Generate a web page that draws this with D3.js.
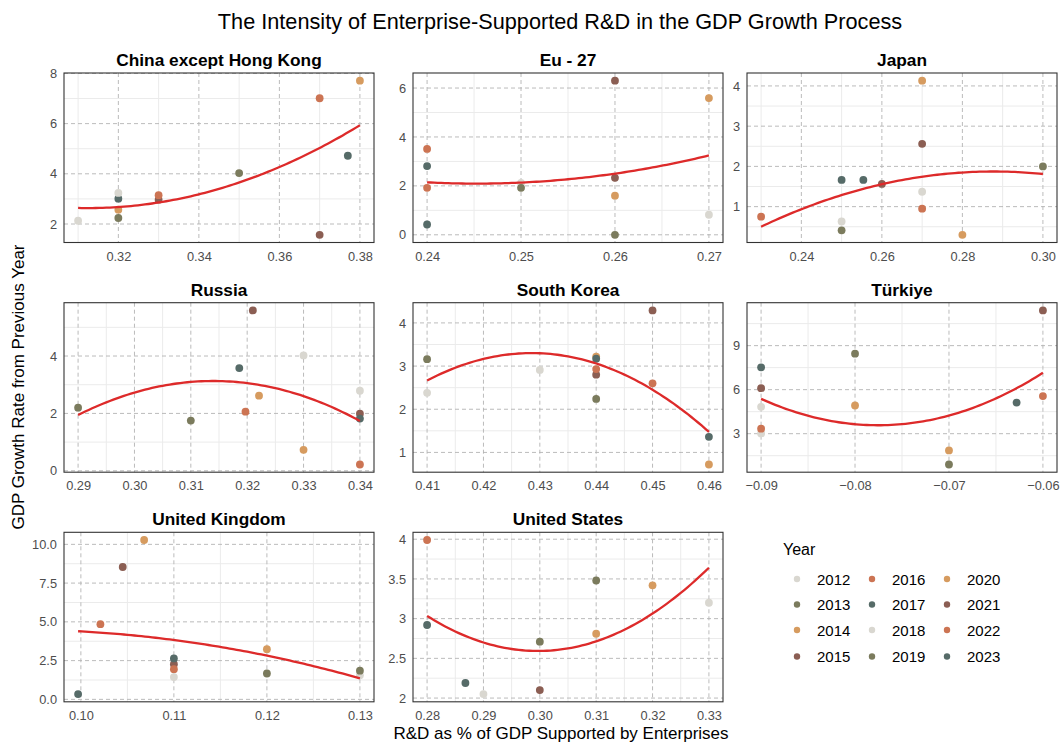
<!DOCTYPE html>
<html><head><meta charset="utf-8">
<script src="https://cdn.jsdelivr.net/npm/d3@7"></script>
<style>
body{margin:0;background:#fff}
svg{display:block}
text{font-family:"Liberation Sans",Arial,sans-serif}
</style>
</head><body>
<svg id="chart" width="1061" height="745"></svg>
<script>
// ---------- data ----------
const years = [2012,2013,2014,2015,2016,2017,2018,2019,2020,2021,2022,2023];
const yearColors = ["#d9d7d0","#7b7b5d","#d69b5f","#8b5e53","#cc7453","#566b68",
                    "#d9d7d0","#7b7b5d","#d69b5f","#8b5e53","#cc7453","#566b68"];
const countries = ["China except Hong Kong","Eu - 27","Japan","Russia","South Korea","Türkiye","United Kingdom","United States"];

const yrFull = [2012,2013,2014,2015,2016,2017,2018,2019,2020,2021,2022,2023];
const rdChina  = [0.31,0.32,0.32,0.33,0.33,0.32,0.32,0.35,0.38,0.37,0.37,0.377];
const gdpChina = [2.13,2.24,2.57,2.97,3.15,3.01,3.24,4.03,7.71,1.57,7.01,4.72];
const rdEu  = [0.25,0.25,0.26,0.26,0.24,0.24,0.27,0.26,0.27,0.26,0.24,0.24];
const gdpEu = [2.12,1.92,1.60,2.33,1.92,2.81,0.82,0.00,5.59,6.30,3.51,0.42];
const rdJapan  = [0.25,0.25,0.28,0.26,0.23,0.25,0.27,0.30,0.27,0.27,0.27,0.2554];
const gdpJapan = [0.63,0.41,0.30,1.565,0.75,1.665,1.37,2.00,4.13,2.56,0.95,1.665];
const rdRussia  = [0.33,0.29,0.33,0.34,0.34,0.3186,0.34,0.31,0.3221,0.321,0.3197,0.34];
const gdpRussia = [4.02,2.20,0.73,1.99,0.22,3.58,2.79,1.75,2.62,5.59,2.06,1.82];
const rdKorea  = [0.41,0.41,0.44,0.44,0.44,0.44,0.43,0.44,0.46,0.45,0.45,0.46];
const gdpKorea = [2.38,3.16,3.22,2.80,2.93,3.17,2.91,2.24,0.72,4.29,2.60,1.36];
const rdTurkiye  = [-0.09,-0.07,-0.07,-0.09,-0.09,-0.09,-0.09,-0.08,-0.08,-0.06,-0.06,-0.0628];
const gdpTurkiye = [3.02,0.90,1.86,6.10,3.34,7.52,4.83,8.45,4.92,11.40,5.56,5.12];
const rdUK  = [0.11,0.12,0.12,0.11,0.11,0.11,0.13,0.13,0.1068,0.1045,0.1021,0.0997];
const gdpUK = [1.44,1.67,3.24,2.27,1.95,2.64,1.55,1.85,10.28,8.54,4.85,0.34];
const yrUS  = [2012,2013,2014,2015,2016,2017,2018,2019,2020,2023];
const rdUS  = [0.29,0.30,0.31,0.30,0.28,0.28,0.33,0.31,0.32,0.2868];
const gdpUS = [2.05,2.71,2.81,2.10,3.99,2.92,3.20,3.48,3.42,2.19];

const xTicksChina=[0.32,0.34,0.36,0.38],   yTicksChina=[2,4,6,8];
const xTicksEu=[0.24,0.25,0.26,0.27],      yTicksEu=[0,2,4,6];
const xTicksJapan=[0.24,0.26,0.28,0.30],   yTicksJapan=[1,2,3,4];
const xTicksRussia=[0.29,0.30,0.31,0.32,0.33,0.34], yTicksRussia=[0,2,4];
const xTicksKorea=[0.41,0.42,0.43,0.44,0.45,0.46],  yTicksKorea=[1,2,3,4];
const xTicksTurkiye=[-0.09,-0.08,-0.07,-0.06],      yTicksTurkiye=[3,6,9];
const xTicksUK=[0.10,0.11,0.12,0.13],      yTicksUK=[0,2.5,5,7.5,10];
const xTicksUS=[0.28,0.29,0.30,0.31,0.32,0.33],     yTicksUS=[2,2.5,3,3.5,4];
const yLabelsUK=["0.0","2.5","5.0","7.5","10.0"];
const yLabelsUS=["2","2.5","3","3.5","4"];

const panels = [
 {name:countries[0], x:rdChina, y:gdpChina, yr:yrFull, xt:xTicksChina, yt:yTicksChina},
 {name:countries[1], x:rdEu, y:gdpEu, yr:yrFull, xt:xTicksEu, yt:yTicksEu},
 {name:countries[2], x:rdJapan, y:gdpJapan, yr:yrFull, xt:xTicksJapan, yt:yTicksJapan},
 {name:countries[3], x:rdRussia, y:gdpRussia, yr:yrFull, xt:xTicksRussia, yt:yTicksRussia},
 {name:countries[4], x:rdKorea, y:gdpKorea, yr:yrFull, xt:xTicksKorea, yt:yTicksKorea},
 {name:countries[5], x:rdTurkiye, y:gdpTurkiye, yr:yrFull, xt:xTicksTurkiye, yt:yTicksTurkiye},
 {name:countries[6], x:rdUK, y:gdpUK, yr:yrFull, xt:xTicksUK, yt:yTicksUK, yl:yLabelsUK},
 {name:countries[7], x:rdUS, y:gdpUS, yr:yrUS, xt:xTicksUS, yt:yTicksUS, yl:yLabelsUS}
];

// ---------- helpers ----------
const colorOf = d3.scaleOrdinal().domain(years).range(yearColors);

function quadFit(xs, ys){
  const n = xs.length, mx = d3.mean(xs), sx = d3.deviation(xs) || 1;
  const u = xs.map(v => (v - mx) / sx);
  let S=[0,0,0,0,0], T=[0,0,0];
  for(let i=0;i<n;i++){
    let p=1; for(let k=0;k<5;k++){S[k]+=p; if(k<3) T[k]+=p*ys[i]; p*=u[i];}
  }
  const A=[[S[0],S[1],S[2],T[0]],[S[1],S[2],S[3],T[1]],[S[2],S[3],S[4],T[2]]];
  for(let c=0;c<3;c++){
    let piv=c; for(let r=c+1;r<3;r++) if(Math.abs(A[r][c])>Math.abs(A[piv][c])) piv=r;
    [A[c],A[piv]]=[A[piv],A[c]];
    for(let r=0;r<3;r++) if(r!==c){const f=A[r][c]/A[c][c]; for(let k=c;k<4;k++) A[r][k]-=f*A[c][k];}
  }
  const b=[A[0][3]/A[0][0],A[1][3]/A[1][1],A[2][3]/A[2][2]];
  return v => { const t=(v-mx)/sx; return b[0]+b[1]*t+b[2]*t*t; };
}
function expand(ext, m=0.05){ const r = ext[1]-ext[0]; return [ext[0]-r*m, ext[1]+r*m]; }
function minorOf(ticks, dom){
  const step = ticks[1]-ticks[0], out=[];
  const all = [ticks[0]-step, ...ticks];
  for(const t of all){ const m = t + step/2; if(m>=Math.min(...dom) && m<=Math.max(...dom)) out.push(m); }
  return out;
}

// ---------- layout ----------
const svg = d3.select("#chart");
const colLeft = [64, 413, 747], rowTop = [73, 302.7, 532.3];
const pw = 310, ph = 169.5;
const font = '"Liberation Sans",Arial,sans-serif';

svg.append("text").attr("x", 560).attr("y", 29).attr("text-anchor","middle")
  .attr("font-size", 21.7).attr("fill","#000")
  .text("The Intensity of Enterprise-Supported R&D in the GDP Growth Process");

panels.forEach((p, i) => {
  const L = colLeft[i % 3], T = rowTop[Math.floor(i / 3)];
  const fit = quadFit(p.x, p.y);
  const xDom = expand(d3.extent(p.x));
  const xs = d3.range(0, 81).map(k => d3.min(p.x) + (d3.max(p.x) - d3.min(p.x)) * k / 80);
  const fitVals = xs.map(fit);
  const yDom = expand(d3.extent([...p.y, ...fitVals]));
  const x = d3.scaleLinear().domain(xDom).range([L, L + pw]);
  const y = d3.scaleLinear().domain(yDom).range([T + ph, T]);
  const g = svg.append("g");

  // minor grid
  g.selectAll(null).data(minorOf(p.xt, xDom)).join("line")
    .attr("x1", d => x(d)).attr("x2", d => x(d)).attr("y1", T).attr("y2", T + ph)
    .attr("stroke", "#ebebeb").attr("stroke-width", 1);
  g.selectAll(null).data(minorOf(p.yt, yDom)).join("line")
    .attr("y1", d => y(d)).attr("y2", d => y(d)).attr("x1", L).attr("x2", L + pw)
    .attr("stroke", "#ebebeb").attr("stroke-width", 1);
  // major grid dashed
  g.selectAll(null).data(p.xt).join("line")
    .attr("x1", d => x(d)).attr("x2", d => x(d)).attr("y1", T).attr("y2", T + ph)
    .attr("stroke", "#b3b3b3").attr("stroke-width", 0.9).attr("stroke-dasharray", "4,3");
  g.selectAll(null).data(p.yt).join("line")
    .attr("y1", d => y(d)).attr("y2", d => y(d)).attr("x1", L).attr("x2", L + pw)
    .attr("stroke", "#b3b3b3").attr("stroke-width", 0.9).attr("stroke-dasharray", "4,3");

  // axes (labels only)
  const xAxis = d3.axisBottom(x).tickValues(p.xt).tickSize(0).tickPadding(9)
    .tickFormat(d3.format(".2f"));
  const gx = g.append("g").attr("transform", `translate(0,${T + ph})`).call(xAxis);
  const yAxis = d3.axisLeft(y).tickValues(p.yt).tickSize(0).tickPadding(7)
    .tickFormat((d, k) => p.yl ? p.yl[k] : String(d));
  const gy = g.append("g").attr("transform", `translate(${L},0)`).call(yAxis);
  [gx, gy].forEach(a => {
    a.select(".domain").remove();
    a.selectAll("text").attr("font-size", 12.8).attr("fill", "#4d4d4d").attr("font-family", font);
  });

  // points
  const pts = p.x.map((v, k) => ({x: v, y: p.y[k], yr: p.yr[k]}));
  g.selectAll(null).data(pts).join("circle")
    .attr("cx", d => x(d.x)).attr("cy", d => y(d.y)).attr("r", 3.9)
    .attr("fill", d => colorOf(d.yr));

  // fitted curve
  g.append("path").datum(xs.map((v, k) => [v, fitVals[k]]))
    .attr("d", d3.line().x(d => x(d[0])).y(d => y(d[1])))
    .attr("fill", "none").attr("stroke", "#dd2a2a").attr("stroke-width", 2.3);

  // border
  g.append("rect").attr("x", L).attr("y", T).attr("width", pw).attr("height", ph)
    .attr("fill", "none").attr("stroke", "#333").attr("stroke-width", 1.1);

  // strip title
  g.append("text").attr("x", L + pw / 2).attr("y", T - 7).attr("text-anchor", "middle")
    .attr("font-size", 17.3).attr("font-weight", "bold").attr("fill", "#000").text(p.name);
});

// axis titles
svg.append("text").attr("x", 561).attr("y", 739).attr("text-anchor", "middle")
  .attr("font-size", 17).attr("fill", "#000").text("R&D as % of GDP Supported by Enterprises");
svg.append("text").attr("transform", "translate(24,387) rotate(-90)").attr("text-anchor", "middle")
  .attr("font-size", 17).attr("fill", "#000").text("GDP Growth Rate from Previous Year");

// legend
const lg = svg.append("g");
lg.append("text").attr("x", 783).attr("y", 555).attr("font-size", 16).attr("fill", "#000").text("Year");
const legCols = [797, 872, 947], legRows = [579, 604.5, 630, 656.5];
years.forEach((yv, k) => {
  const cx = legCols[Math.floor(k / 4)], cy = legRows[k % 4];
  lg.append("circle").attr("cx", cx).attr("cy", cy).attr("r", 3.2).attr("fill", colorOf(yv));
  lg.append("text").attr("x", cx + 20).attr("y", cy + 5.5).attr("font-size", 15).attr("fill", "#000").text(yv);
});
</script>
</body></html>
